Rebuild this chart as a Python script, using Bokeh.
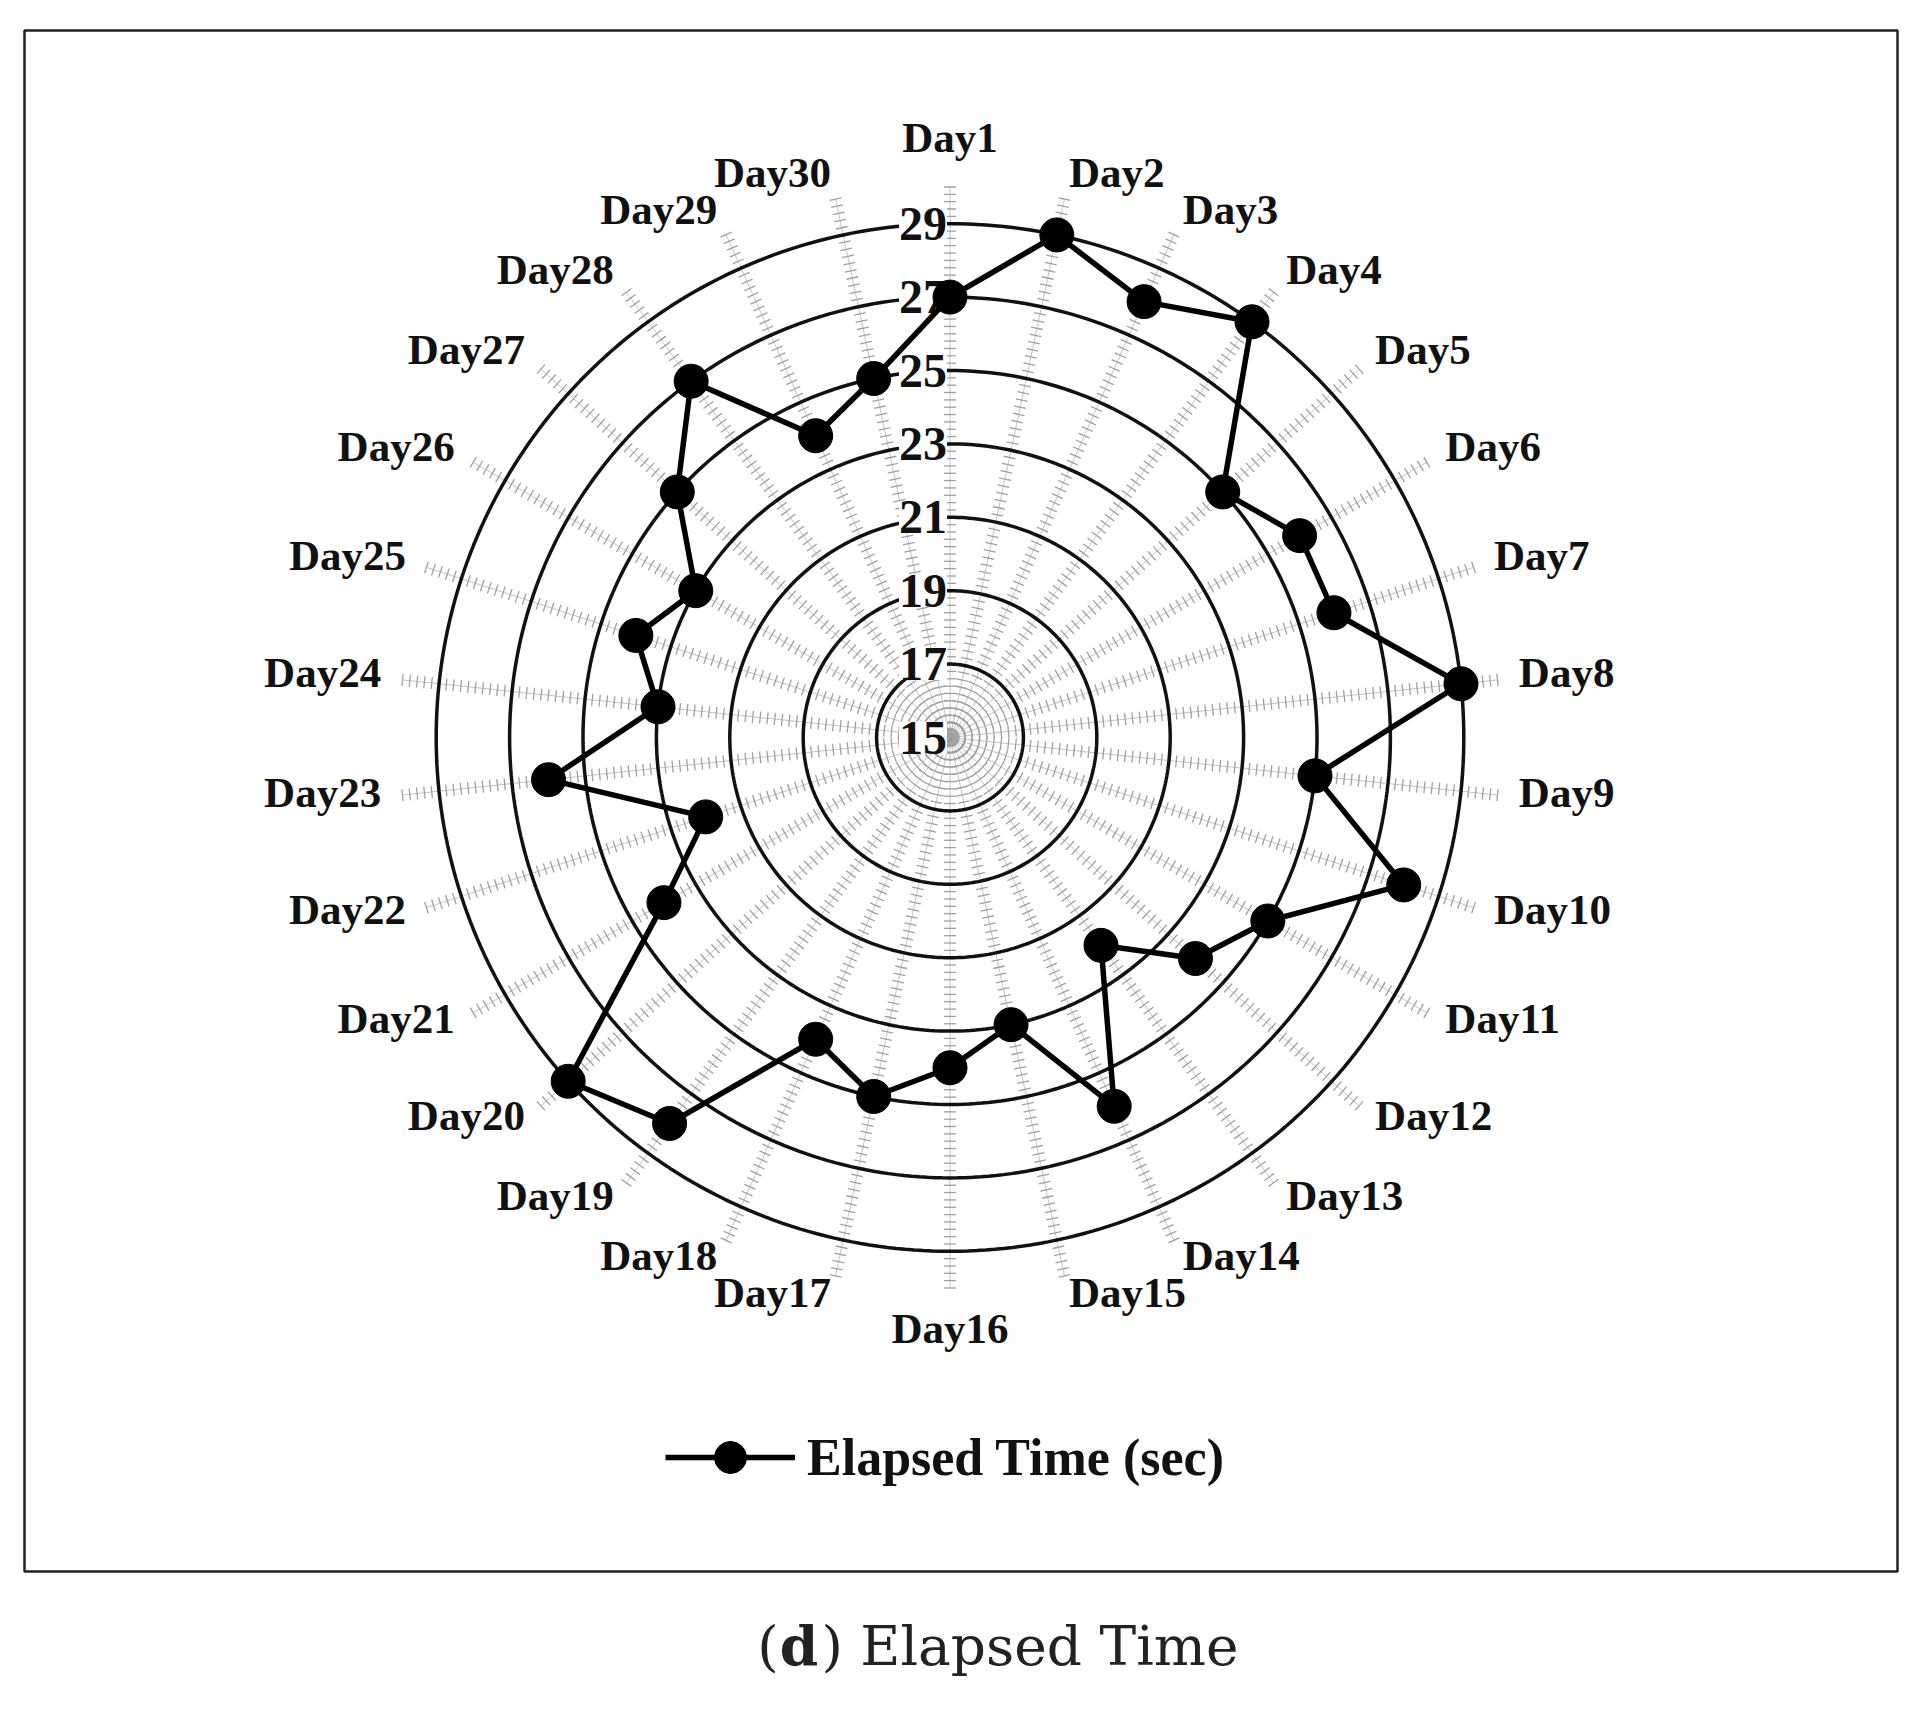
import numpy as np
from bokeh.plotting import figure
from bokeh.models import Range1d, Legend, LegendItem, ColumnDataSource
from bokeh.core.properties import value
from bokeh.embed import file_html
from bokeh.resources import INLINE

# ---------------- data ----------------
days = [f"Day{i}" for i in range(1, 31)]
elapsed = [27, 29, 28, 29, 25, 26, 26, 29, 25, 28,
           25, 24, 22, 26, 23, 24, 25, 24, 28, 29,
           24, 22, 26, 23, 24, 23, 25, 27, 24, 25]
ring_values = [15, 17, 19, 21, 23, 25, 27, 29]
axis_min = 15
axis_max = 30.0
minor_step = 0.2
series_name = "Elapsed Time (sec)"
caption_parts = ["(", "d", ") Elapsed Time"]

# ---------------- layout ----------------
W, H = 1915, 1695
PX = 36.7              # pixels per data unit
CX, CY = 949.5, 737    # position of the chart centre (figure pixels)
FONT = "Liberation Serif"
SERIF = value(FONT)
CAP_FONT = value("DejaVu Serif")


def X(px):
    return (px - CX) / PX


def Y(py):
    return (CY - py) / PX


p = figure(width=W, height=H,
           x_range=Range1d(X(0), X(W)), y_range=Range1d(Y(H), Y(0)),
           output_backend="svg", toolbar_location=None,
           x_axis_location=None, y_axis_location=None, min_border=0)
p.grid.visible = False
p.outline_line_color = None
p.background_fill_color = "white"
p.border_fill_color = "white"

n = len(days)
theta = np.arange(n) * 2 * np.pi / n
sin_t, cos_t = np.sin(theta), np.cos(theta)

# frame border
p.quad(left=X(24), right=X(1897), top=Y(30), bottom=Y(1571),
       fill_color=None, line_color="#222222", line_width=2.5)

# spokes
r_end = axis_max - axis_min
p.segment(x0=np.zeros(n), y0=np.zeros(n), x1=r_end * sin_t, y1=r_end * cos_t,
          line_color="#c4c4c4", line_width=1)

# minor tick marks along the spokes
vals = np.arange(axis_min, axis_max + 1e-9, minor_step) - axis_min
half = 6.0 / PX
tx0, ty0, tx1, ty1 = [], [], [], []
for s, c in zip(sin_t, cos_t):
    for r in vals:
        cx_, cy_ = r * s, r * c
        tx0.append(cx_ - half * c)
        ty0.append(cy_ + half * s)
        tx1.append(cx_ + half * c)
        ty1.append(cy_ - half * s)
p.segment(x0=tx0, y0=ty0, x1=tx1, y1=ty1, line_color="#a0a0a0", line_width=1.3)

# rings (circles)
phi = np.linspace(0, 2 * np.pi, 361)
rxs, rys = [], []
for v in ring_values[1:]:
    r = v - axis_min
    rxs.append(list(r * np.sin(phi)))
    rys.append(list(r * np.cos(phi)))
p.multi_line(xs=rxs, ys=rys, line_color="#111111", line_width=3.5)

# ring labels
p.text(x=[X(CX - 3)] * len(ring_values), y=[v - axis_min for v in ring_values],
       text=[str(v) for v in ring_values], text_align="right",
       text_baseline="middle", text_font=SERIF, text_font_size="48px",
       text_font_style="bold", text_color="#111111",
       background_fill_color="white")

# data series
r_data = np.array(elapsed, dtype=float) - axis_min
dx = list(r_data * sin_t) + [r_data[0] * sin_t[0]]
dy = list(r_data * cos_t) + [r_data[0] * cos_t[0]]
line_r = p.line(dx, dy, line_color="#000000", line_width=5.5, line_join="round")
pts_r = p.scatter(r_data * sin_t, r_data * cos_t, size=34,
                  fill_color="#000000", line_color="#000000")

# category labels
R_LAB = 572 / PX
LAB_DY = 5 / PX
aligns, bases = [], []
for s, c in zip(sin_t, cos_t):
    if abs(s) < 1e-6:
        aligns.append("center")
        bases.append("bottom" if c > 0 else "top")
    else:
        aligns.append("left" if s > 0 else "right")
        bases.append("middle")
lab_src = ColumnDataSource(dict(x=R_LAB * sin_t, y=R_LAB * cos_t + LAB_DY,
                                text=days, align=aligns, base=bases))
p.text(x="x", y="y", text="text", text_align="align", text_baseline="base",
       source=lab_src, text_font=SERIF, text_font_size="43px",
       text_font_style="bold", text_color="#111111")

# legend
legend = Legend(items=[LegendItem(label=series_name, renderers=[line_r, pts_r])],
                location=(665, 198), glyph_width=130, glyph_height=80,
                label_height=80, label_standoff=12, padding=0, margin=0,
                border_line_color=None, background_fill_alpha=0,
                label_text_font=FONT, label_text_font_size="52px",
                label_text_font_style="bold", label_text_color="#111111")
p.add_layout(legend)

# caption
fs = 55
w0 = 0.39 * fs
w1 = 0.72 * fs
w2 = 7.55 * fs
start = 995 - (w0 + w1 + w2) / 2
cap_y = Y(1645)
p.text(x=[X(start)], y=[cap_y], text=[caption_parts[0]], text_align="left",
       text_baseline="middle", text_font=CAP_FONT, text_font_size=f"{fs}px",
       text_color="#222222")
p.text(x=[X(start + w0 + 1)], y=[cap_y], text=[caption_parts[1]], text_align="left",
       text_baseline="middle", text_font=CAP_FONT, text_font_size=f"{fs}px",
       text_font_style="bold", text_color="#222222")
p.text(x=[X(start + w0 + w1 + 3)], y=[cap_y], text=[caption_parts[2]],
       text_align="left", text_baseline="middle", text_font=CAP_FONT,
       text_font_size=f"{fs}px", text_color="#222222")

open("out.html", "w").write(file_html(p, INLINE))
